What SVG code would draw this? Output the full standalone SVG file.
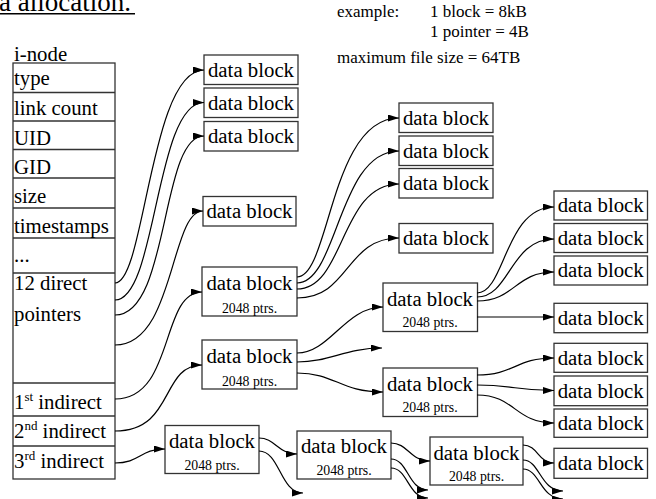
<svg xmlns="http://www.w3.org/2000/svg" width="656" height="499" viewBox="0 0 656 499">
<defs>
<marker id="ah" markerWidth="12" markerHeight="8" refX="11" refY="3.5" orient="auto" markerUnits="userSpaceOnUse">
<path d="M0,0 L11,3.5 L0,7 z" fill="#000"/>
</marker>
</defs>
<style>
text{font-family:"Liberation Serif","Times New Roman",serif;fill:#000}
.lbl{font-size:20.8px}
.sm{font-size:13.8px}
.note{font-size:17px}
.box{fill:#fff;stroke:#333;stroke-width:1.3}
.tl{stroke:#333;stroke-width:1.3;fill:none}
.c{fill:none;stroke:#000;stroke-width:1.2;marker-end:url(#ah)}
.mid{text-anchor:middle}
</style>
<rect width="656" height="499" fill="#fff"/>

<g id="title">
<text x="-1" y="11" style="font-size:27px">a allocation.</text>
<line x1="0" y1="13.8" x2="135" y2="13.8" stroke="#000" stroke-width="1.4"/>
</g>

<g id="example">
<text class="note" x="337" y="17">example:</text>
<text class="note" x="430" y="17">1 block = 8kB</text>
<text class="note" x="430" y="37">1 pointer = 4B</text>
<text class="note" x="337" y="63">maximum file size = 64TB</text>
</g>

<g id="inode">
<text class="lbl" x="14" y="61">i-node</text>
<rect class="tl" x="13" y="63" width="102" height="416" fill="#fff"/>
<line class="tl" x1="13" y1="92.5" x2="115" y2="92.5"/>
<line class="tl" x1="13" y1="121" x2="115" y2="121"/>
<line class="tl" x1="13" y1="149.5" x2="115" y2="149.5"/>
<line class="tl" x1="13" y1="178" x2="115" y2="178"/>
<line class="tl" x1="13" y1="208" x2="115" y2="208"/>
<line class="tl" x1="13" y1="238" x2="115" y2="238"/>
<line class="tl" x1="13" y1="273" x2="115" y2="273"/>
<line class="tl" x1="13" y1="383" x2="115" y2="383"/>
<line class="tl" x1="13" y1="416" x2="115" y2="416"/>
<line class="tl" x1="13" y1="446" x2="115" y2="446"/>
<text class="lbl" x="14" y="85">type</text>
<text class="lbl" x="14" y="114.5">link count</text>
<text class="lbl" x="14" y="145">UID</text>
<text class="lbl" x="14" y="173.5">GID</text>
<text class="lbl" x="14" y="202.7">size</text>
<text class="lbl" x="14" y="233.3">timestamps</text>
<text class="lbl" x="14" y="262.3">...</text>
<text class="lbl" x="14" y="290">12 direct</text>
<text class="lbl" x="14" y="320.7">pointers</text>
<text class="lbl" x="14" y="409">1<tspan font-size="13" dy="-8">st</tspan><tspan dy="8"> indirect</tspan></text>
<text class="lbl" x="14" y="438.3">2<tspan font-size="13" dy="-8">nd</tspan><tspan dy="8"> indirect</tspan></text>
<text class="lbl" x="14" y="467.7">3<tspan font-size="13" dy="-8">rd</tspan><tspan dy="8"> indirect</tspan></text>
</g>

<g id="db-a1"><rect class="box" x="204" y="55" width="94" height="29.5"/><text class="lbl mid" x="251" y="76.5">data block</text></g>
<g id="db-a2"><rect class="box" x="204" y="88" width="94" height="29.5"/><text class="lbl mid" x="251" y="109.5">data block</text></g>
<g id="db-a3"><rect class="box" x="204" y="121.5" width="94" height="29.5"/><text class="lbl mid" x="251" y="143">data block</text></g>
<g id="db-a4"><rect class="box" x="203" y="196.5" width="93" height="29.5"/><text class="lbl mid" x="249.5" y="218">data block</text></g>
<g id="db-a5"><rect class="box" x="202" y="267" width="95" height="49"/><text class="lbl mid" x="249.5" y="290">data block</text><text class="sm mid" x="249.5" y="312.5">2048 ptrs.</text></g>
<g id="db-a6"><rect class="box" x="202" y="340" width="95" height="49"/><text class="lbl mid" x="249.5" y="363">data block</text><text class="sm mid" x="249.5" y="385.5">2048 ptrs.</text></g>
<g id="db-t1"><rect class="box" x="165" y="425.5" width="94" height="48"/><text class="lbl mid" x="212" y="448">data block</text><text class="sm mid" x="212" y="470">2048 ptrs.</text></g>

<g id="db-b1"><rect class="box" x="399" y="103" width="94" height="29.5"/><text class="lbl mid" x="446" y="124.5">data block</text></g>
<g id="db-b2"><rect class="box" x="399" y="136" width="94" height="29.5"/><text class="lbl mid" x="446" y="157.5">data block</text></g>
<g id="db-b3"><rect class="box" x="399" y="168.5" width="94" height="29.5"/><text class="lbl mid" x="446" y="190">data block</text></g>
<g id="db-b4"><rect class="box" x="399" y="223.5" width="94" height="29.5"/><text class="lbl mid" x="446" y="245">data block</text></g>
<g id="db-b5"><rect class="box" x="383" y="283" width="94.5" height="48.5"/><text class="lbl mid" x="430" y="305.5">data block</text><text class="sm mid" x="430" y="327">2048 ptrs.</text></g>
<g id="db-b6"><rect class="box" x="383" y="368" width="94.5" height="48.5"/><text class="lbl mid" x="430" y="390.5">data block</text><text class="sm mid" x="430" y="412">2048 ptrs.</text></g>
<g id="db-t2"><rect class="box" x="297" y="431" width="94" height="48"/><text class="lbl mid" x="344" y="453">data block</text><text class="sm mid" x="344" y="475">2048 ptrs.</text></g>
<g id="db-t3"><rect class="box" x="430" y="437" width="93" height="48"/><text class="lbl mid" x="476.5" y="459.5">data block</text><text class="sm mid" x="476.5" y="481">2048 ptrs.</text></g>

<g id="db-c1"><rect class="box" x="554" y="191" width="93.5" height="29"/><text class="lbl mid" x="600.7" y="212">data block</text></g>
<g id="db-c2"><rect class="box" x="554" y="223.5" width="93.5" height="29"/><text class="lbl mid" x="600.7" y="244.5">data block</text></g>
<g id="db-c3"><rect class="box" x="554" y="256" width="93.5" height="29"/><text class="lbl mid" x="600.7" y="277">data block</text></g>
<g id="db-c4"><rect class="box" x="554" y="303.3" width="93.5" height="29.4"/><text class="lbl mid" x="600.7" y="324.5">data block</text></g>
<g id="db-c5"><rect class="box" x="554" y="343.3" width="93.5" height="29"/><text class="lbl mid" x="600.7" y="364.5">data block</text></g>
<g id="db-c6"><rect class="box" x="554" y="376" width="93.5" height="29.7"/><text class="lbl mid" x="600.7" y="397.5">data block</text></g>
<g id="db-c7"><rect class="box" x="554" y="409" width="93.5" height="28.3"/><text class="lbl mid" x="600.7" y="430">data block</text></g>
<g id="db-c8"><rect class="box" x="554" y="448.3" width="93.5" height="30"/><text class="lbl mid" x="600.7" y="470">data block</text></g>

<g id="connectors">
<path class="c" d="M115,283 C145,283 150,70 204,70"/>
<path class="c" d="M115,300 C157,300 155,102.5 204,102.5"/>
<path class="c" d="M115,315 C170,315 160,136 204,136"/>
<path class="c" d="M115,345 C175,345 170,211 203,211"/>
<path class="c" d="M115,399 C175,399 160,292 202,292"/>
<path class="c" d="M115,431 C175,431 160,365 202,365"/>
<path class="c" d="M115,463 C140,463 140,449 165,449"/>

<path class="c" d="M297,277 C330,277 330,118 399,118"/>
<path class="c" d="M297,283 C338,283 338,151 399,151"/>
<path class="c" d="M297,289 C345,289 340,184 399,184"/>
<path class="c" d="M297,298 C350,298 345,238 399,238"/>

<path class="c" d="M297,353 C330,353 345,307 383,307"/>
<path class="c" d="M297,362 C330,362 345,348 382,348"/>
<path class="c" d="M297,373 C335,373 340,392 383,392"/>

<path class="c" d="M477,293 C505,293 505,207 554,207"/>
<path class="c" d="M477,297 C510,297 510,239 554,239"/>
<path class="c" d="M477,301 C515,301 515,272 554,272"/>
<path class="c" d="M477,317 L554,317"/>

<path class="c" d="M477,375 C515,375 515,358 554,358"/>
<path class="c" d="M477,385 C515,385 515,390.5 554,390.5"/>
<path class="c" d="M477,395 C515,395 515,423 554,423"/>

<path class="c" d="M259,438 C275,438 278,454 297,454"/>
<path class="c" d="M259,451 C280,451 280,493 303,493"/>

<path class="c" d="M391,443 C408,443 410,461 430,461"/>
<path class="c" d="M391,459 C408,459 408,490 428,490"/>
<path class="c" d="M391,468 C408,468 408,498 428,498"/>

<path class="c" d="M523,445 C538,445 538,463 554,463"/>
<path class="c" d="M523,460 C540,460 540,491 563,491"/>
<path class="c" d="M523,469 C540,469 540,499 563,499"/>
</g>
</svg>
